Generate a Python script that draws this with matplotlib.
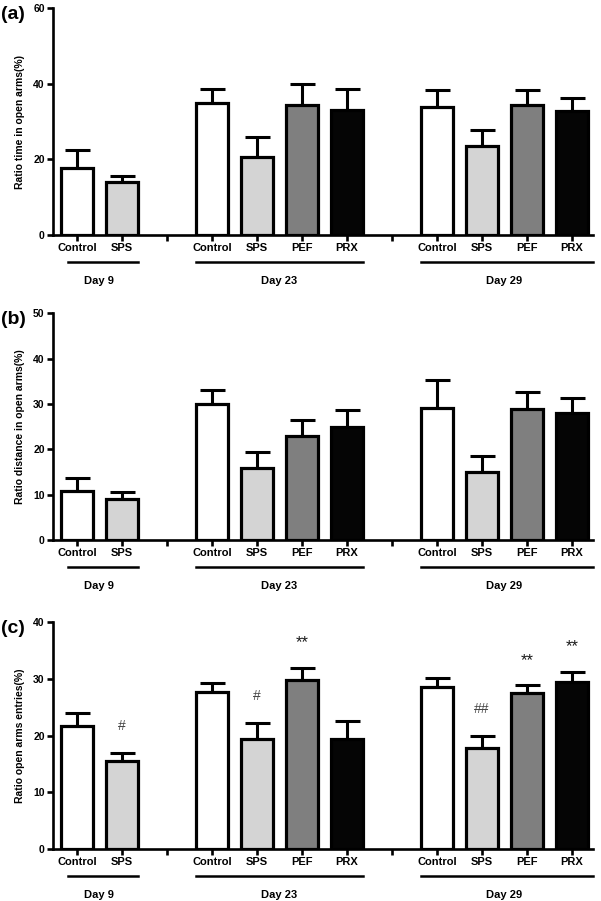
import numpy as np
import matplotlib.pyplot as plt
import matplotlib.transforms as mtransforms

plt.rcParams['font.family'] = ['Liberation Sans', 'DejaVu Sans']

# groups and bars
groups = ['Day 9', 'Day 23', 'Day 29']
group_bars = [['Control', 'SPS'],
              ['Control', 'SPS', 'PEF', 'PRX'],
              ['Control', 'SPS', 'PEF', 'PRX']]
bar_colors = {'Control': 'white', 'SPS': '#d4d4d4',
              'PEF': '#7f7f7f', 'PRX': '#050505'}

# (a) ratio time in open arms
time_mean = [17.8, 14.1, 34.9, 20.7, 34.4, 33.2, 33.9, 23.6, 34.3, 32.9]
time_sem = [4.7, 1.6, 3.7, 5.2, 5.5, 5.4, 4.5, 4.3, 4.0, 3.5]

# (b) ratio distance in open arms
dist_mean = [10.7, 9.1, 30.1, 15.8, 22.9, 24.9, 29.2, 15.1, 29.0, 28.1]
dist_sem = [2.9, 1.4, 3.1, 3.6, 3.6, 3.8, 6.2, 3.4, 3.7, 3.3]

# (c) ratio open arms entries
entr_mean = [21.7, 15.5, 27.7, 19.4, 29.9, 19.4, 28.6, 17.9, 27.5, 29.5]
entr_sem = [2.3, 1.4, 1.6, 2.8, 2.1, 3.2, 1.6, 2.0, 1.4, 1.8]
entr_marks = ['', '#', '', '#', '**', '', '', '##', '**', '**']

panels = [
    ('(a)', 'Ratio time in open arms(%)', time_mean, time_sem, None,
     60, [0, 20, 40, 60]),
    ('(b)', 'Ratio distance in open arms(%)', dist_mean, dist_sem, None,
     50, [0, 10, 20, 30, 40, 50]),
    ('(c)', 'Ratio open arms entries(%)', entr_mean, entr_sem, entr_marks,
     40, [0, 10, 20, 30, 40]),
]

# bar positions: one empty slot between groups
xpos, labels, gaps, spans = [], [], [], []
i = 0
for g, bars in enumerate(group_bars):
    start = i
    for b in bars:
        xpos.append(i)
        labels.append(b)
        i += 1
    spans.append((start, i - 1))
    if g < len(group_bars) - 1:
        gaps.append(i)
        i += 1

fig = plt.figure(figsize=(6.01, 9.01), dpi=100)
bottoms = [0.7392, 0.4007, 0.0577]
height = 0.2515

for k, (tag, ylab, mean, sem, marks, ymax, yt) in enumerate(panels):
    ax = fig.add_axes([0.0882, bottoms[k], 0.8985, height])
    cols = [bar_colors[l] for l in labels]
    ax.errorbar(xpos, mean, yerr=sem, fmt='none', ecolor='black',
                elinewidth=2.2, capsize=9, capthick=2.2, zorder=1)
    ax.bar(xpos, mean, width=0.7, color=cols, edgecolor='black',
           linewidth=2.3, zorder=2)
    if marks is not None:
        for x, m, s, mk in zip(xpos, mean, sem, marks):
            if mk:
                star = '*' in mk
                ax.text(x, m + s + (4.4 if star else 4.8), mk,
                        ha='center', va='center',
                        fontsize=12 if star else 10,
                        color='#1a1a1a' if star else '#444444')

    ax.set_xlim(-0.53, 11.47)
    ax.set_ylim(0, ymax)
    ax.set_yticks(yt)
    ax.set_xticks(xpos + gaps)
    ax.set_xticklabels(labels + [''] * len(gaps))
    for sp in ['top', 'right']:
        ax.spines[sp].set_visible(False)
    for sp in ['left', 'bottom']:
        ax.spines[sp].set_linewidth(1.9)
    ax.tick_params(axis='both', width=1.9, length=4, pad=2)
    ax.tick_params(axis='x', labelsize=8)
    ax.tick_params(axis='y', labelsize=7.5)
    for t in ax.get_xticklabels() + ax.get_yticklabels():
        t.set_fontweight('bold')
    ax.set_ylabel(ylab, fontsize=7.5, fontweight='bold', labelpad=6)

    # group lines and day labels under the axis
    trans = mtransforms.blended_transform_factory(ax.transData,
                                                  ax.transAxes)
    for g, (s0, s1) in enumerate(spans):
        x0 = s0 - 0.2 if g == 0 else s0 - 0.35
        x1 = s1 + 0.35 if g < len(spans) - 1 else 11.47
        ax.plot([x0, x1], [-0.12, -0.12], color='black', lw=1.8,
                transform=trans, clip_on=False)
        ax.text((s0 + s1) / 2, -0.18, groups[g], transform=trans,
                ha='center', va='top', fontsize=8, fontweight='bold')

    fig.text(0.002, bottoms[k] + height - 0.007, tag, fontsize=14,
             fontweight='bold', ha='left', va='center')

fig.savefig('out.png', dpi=100)
